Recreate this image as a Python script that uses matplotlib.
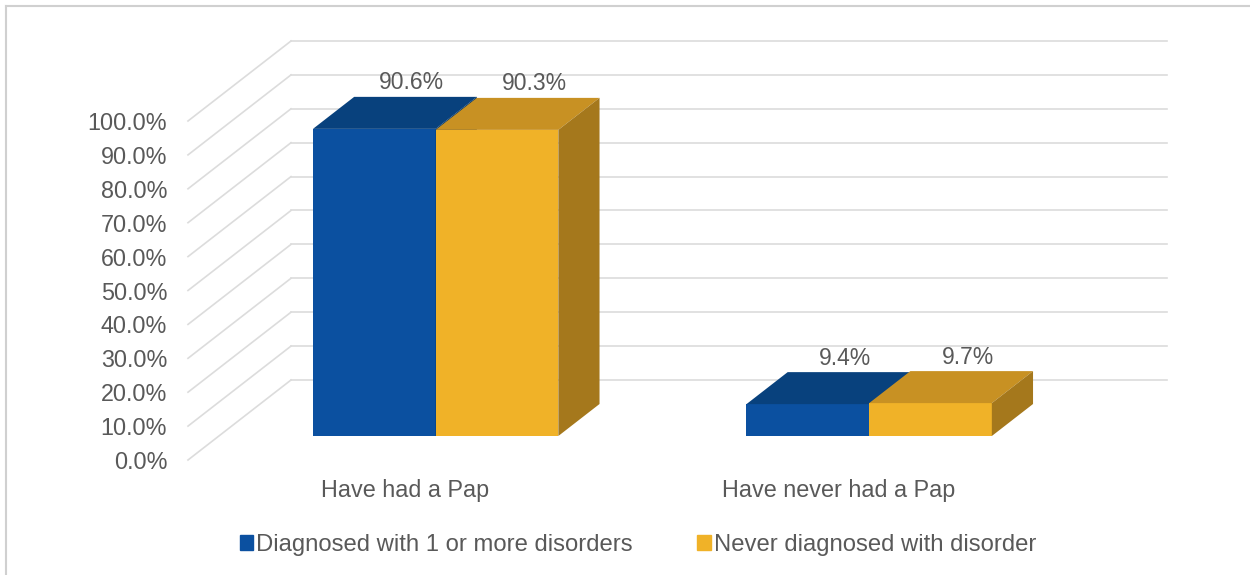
import matplotlib
matplotlib.use("Agg")
import matplotlib.pyplot as plt
from matplotlib.patches import Patch
from matplotlib.lines import Line2D

plt.rcParams['font.family'] = ['Liberation Sans', 'DejaVu Sans']

# data
categories = ["Have had a Pap", "Have never had a Pap"]
series_names = ["Diagnosed with 1 or more disorders", "Never diagnosed with disorder"]
diagnosed = [90.6, 9.4]
never_diagnosed = [90.3, 9.7]
y_ticks = list(range(0, 101, 10))

# colours: front, top, side
blue = ("#0B50A0", "#08417D", "#073868")
gold = ("#F0B228", "#C89123", "#A5781C")
grid_col = "#dcdcdc"
text_col = "#595959"

# oblique "3D" projection in data units
DX = 0.2376   # depth shift along x (category units)
DY = 23.6     # depth shift along y (percent units)
Z0, Z1 = 0.3, 0.7   # bar depth range
W = 0.283           # bar width


def proj(x, y, z):
    return x + DX * z, y + DY * z


fig = plt.figure(figsize=(12.5, 5.75), dpi=100)
ax = fig.add_axes([188 / 1250, 115 / 575, (1055 - 188) / 1250, (454 - 115) / 575])
ax.set_xlim(-0.5, 1.5)
ax.set_ylim(0, 100)
for s in ax.spines.values():
    s.set_visible(False)

# walls: side and back gridlines
x_left, x_right = -0.5, 1.52
for v in y_ticks:
    p0 = proj(x_left, v, 0)
    p1 = proj(x_left, v, 1)
    p2 = proj(x_right, v, 1)
    ax.plot([p0[0], p1[0]], [p0[1], p1[1]], color=grid_col, lw=1.2, clip_on=False, zorder=1)
    ax.plot([p1[0], p2[0]], [p1[1], p2[1]], color=grid_col, lw=1.2, clip_on=False, zorder=1)


def draw_box(x0, val, cols, z):
    x1 = x0 + W
    # front face
    ax.bar(x0 + DX * Z0, val, width=W, bottom=DY * Z0, align='edge',
           color=cols[0], linewidth=0, clip_on=False, zorder=z)
    # top face
    pts = [proj(x0, val, Z0), proj(x1, val, Z0), proj(x1, val, Z1), proj(x0, val, Z1)]
    ax.fill([p[0] for p in pts], [p[1] for p in pts], color=cols[1], lw=0, clip_on=False, zorder=z)
    # right side face
    pts = [proj(x1, 0, Z0), proj(x1, val, Z0), proj(x1, val, Z1), proj(x1, 0, Z1)]
    ax.fill([p[0] for p in pts], [p[1] for p in pts], color=cols[2], lw=0, clip_on=False, zorder=z)


for i in range(len(categories)):
    draw_box(i - W, diagnosed[i], blue, 3 + 2 * i)
    draw_box(i, never_diagnosed[i], gold, 4 + 2 * i)
    for xc, v in [(i - W / 2, diagnosed[i]), (i + W / 2, never_diagnosed[i])]:
        px, py = proj(xc, v, Z1)
        ax.annotate(f"{v}%", xy=(px, py), xytext=(-3, 10), textcoords='offset points',
                    ha='center', va='center', fontsize=16.5, color=text_col, zorder=10,
                    annotation_clip=False)

ax.set_yticks(y_ticks)
ax.set_yticklabels([f"{v:.1f}%" for v in y_ticks])
ax.set_xticks(range(len(categories)))
ax.set_xticklabels(categories)
ax.tick_params(axis='y', length=0, pad=15, labelsize=16.8, labelcolor=text_col)
ax.tick_params(axis='x', length=0, pad=14, labelsize=16.8, labelcolor=text_col)

handles = [Patch(color=blue[0]), Patch(color=gold[0])]
fig.legend(handles, series_names, loc='center', bbox_to_anchor=(638 / 1250, 1 - 545 / 575),
           ncol=2, frameon=False, handlelength=0.55, handleheight=0.55, handletextpad=0.15,
           columnspacing=2.7, fontsize=17.2, labelcolor=text_col)

# chart frame
fig.add_artist(Line2D([6 / 1250, 6 / 1250], [0, 1 - 6 / 575], transform=fig.transFigure,
                      color="#d0d0d0", lw=1.5))
fig.add_artist(Line2D([6 / 1250, 1], [1 - 6 / 575, 1 - 6 / 575], transform=fig.transFigure,
                      color="#d0d0d0", lw=1.5))

fig.savefig("out.png", dpi=100)
